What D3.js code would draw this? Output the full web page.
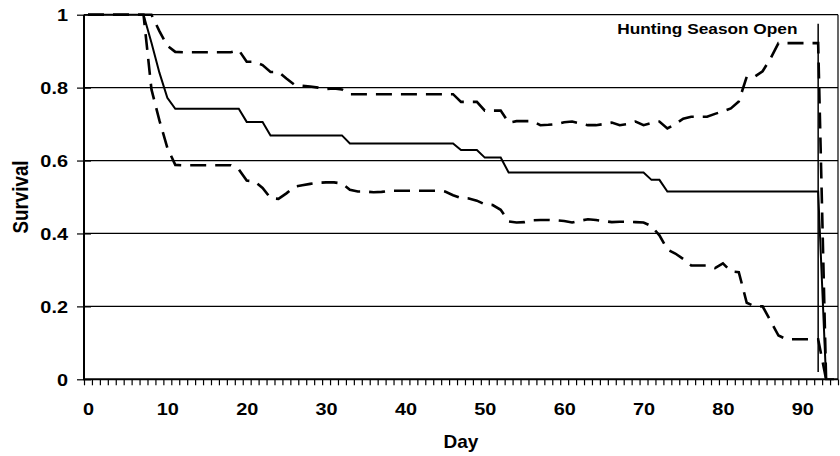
<!DOCTYPE html>
<html>
<head>
<meta charset="utf-8">
<script src="https://cdn.jsdelivr.net/npm/d3@7/dist/d3.min.js"></script>
<style>
  html, body { margin: 0; padding: 0; background: #fff; }
  svg { display: block; }
  text { font-family: "Liberation Sans", Arial, Helvetica, sans-serif; font-weight: bold; fill: #000; }
</style>
</head>
<body>
<svg id="chart" width="840" height="456"></svg>
<script>
// ---- Data ----
const days = d3.range(0, 95);            // categories 0..94
const xTickLabels = [0, 10, 20, 30, 40, 50, 60, 70, 80, 90];
const yTickValues = [0, 0.2, 0.4, 0.6, 0.8, 1];
const yTickLabels = ["0", "0.2", "0.4", "0.6", "0.8", "1"];

const survival = [
  1, 1, 1, 1, 1, 1, 1, 1, 0.923, 0.841,            // 0-9
  0.772, 0.742, 0.742, 0.742, 0.742, 0.742, 0.742, 0.742, 0.742, 0.742, // 10-19
  0.706, 0.706, 0.706, 0.669, 0.669, 0.669, 0.669, 0.669, 0.669, 0.669, // 20-29
  0.669, 0.669, 0.669, 0.647, 0.647, 0.647, 0.647, 0.647, 0.647, 0.647, // 30-39
  0.647, 0.647, 0.647, 0.647, 0.647, 0.647, 0.647, 0.629, 0.629, 0.629, // 40-49
  0.608, 0.608, 0.608, 0.567, 0.567, 0.567, 0.567, 0.567, 0.567, 0.567, // 50-59
  0.567, 0.567, 0.567, 0.567, 0.567, 0.567, 0.567, 0.567, 0.567, 0.567, // 60-69
  0.567, 0.547, 0.547, 0.515, 0.515, 0.515, 0.515, 0.515, 0.515, 0.515, // 70-79
  0.515, 0.515, 0.515, 0.515, 0.515, 0.515, 0.515, 0.515, 0.515, 0.515, // 80-89
  0.515, 0.515, 0.515, 0, 0                                             // 90-94
];

const upperCI = [
  1, 1, 1, 1, 1, 1, 1, 1, 1, 0.955,                 // 0-9
  0.915, 0.898, 0.897, 0.897, 0.897, 0.897, 0.897, 0.897, 0.897, 0.903, // 10-19
  0.871, 0.871, 0.862, 0.843, 0.843, 0.825, 0.808, 0.805, 0.803, 0.800, // 20-29
  0.796, 0.798, 0.795, 0.782, 0.782, 0.782, 0.782, 0.782, 0.782, 0.782, // 30-39
  0.782, 0.782, 0.782, 0.782, 0.782, 0.782, 0.782, 0.761, 0.761, 0.761, // 40-49
  0.737, 0.737, 0.737, 0.704, 0.708, 0.708, 0.708, 0.697, 0.698, 0.700, // 50-59
  0.705, 0.707, 0.702, 0.697, 0.697, 0.700, 0.704, 0.697, 0.700, 0.707, // 60-69
  0.697, 0.703, 0.707, 0.688, 0.700, 0.715, 0.720, 0.720, 0.720, 0.728, // 70-79
  0.735, 0.743, 0.762, 0.830, 0.830, 0.845, 0.880, 0.922, 0.922, 0.922, // 80-89
  0.922, 0.922, 0.922, 0, 0                                             // 90-94
];

const lowerCI = [
  1, 1, 1, 1, 1, 1, 1, 1, 0.795, 0.710,             // 0-9
  0.635, 0.588, 0.587, 0.587, 0.587, 0.587, 0.587, 0.587, 0.587, 0.576, // 10-19
  0.545, 0.543, 0.525, 0.497, 0.495, 0.510, 0.528, 0.532, 0.536, 0.539, // 20-29
  0.540, 0.540, 0.537, 0.520, 0.515, 0.515, 0.513, 0.514, 0.517, 0.517, // 30-39
  0.517, 0.517, 0.517, 0.517, 0.517, 0.515, 0.505, 0.497, 0.496, 0.490, // 40-49
  0.480, 0.478, 0.465, 0.433, 0.430, 0.431, 0.436, 0.437, 0.437, 0.436, // 50-59
  0.434, 0.430, 0.435, 0.439, 0.437, 0.434, 0.431, 0.432, 0.432, 0.431, // 60-69
  0.430, 0.420, 0.395, 0.356, 0.345, 0.330, 0.312, 0.312, 0.312, 0.305, // 70-79
  0.318, 0.296, 0.294, 0.210, 0.200, 0.200, 0.160, 0.120, 0.110, 0.110, // 80-89
  0.110, 0.110, 0.110, 0, 0                                             // 90-94
];

const huntingDay = 92;
const huntingLabel = "Hunting Season Open";
const xTitle = "Day";
const yTitle = "Survival";

// ---- Layout ----
const svg = d3.select("#chart");
const pLeft = 84, pRight = 838, pTop = 14.7, pBottom = 379.3;
const x = d3.scaleLinear().domain([-0.5, 94.5]).range([pLeft, pRight]);
const y = d3.scaleLinear().domain([0, 1]).range([pBottom, pTop]);
const stretch = 1.17;

// gridlines
svg.append("g").selectAll("line")
  .data(yTickValues.filter(v => v > 0))
  .join("line")
  .attr("x1", pLeft).attr("x2", pRight)
  .attr("y1", d => y(d)).attr("y2", d => y(d))
  .attr("stroke", "#000").attr("stroke-width", 1.2);

// right border
svg.append("line")
  .attr("x1", pRight).attr("x2", pRight).attr("y1", pTop).attr("y2", pBottom)
  .attr("stroke", "#000").attr("stroke-width", 1.2);

// x axis: tick marks at category boundaries
const boundaries = d3.range(-0.5, 95, 1);
const xAxisTicks = svg.append("g")
  .attr("transform", `translate(0,${pBottom})`)
  .call(d3.axisBottom(x).tickValues(boundaries).tickSize(6).tickFormat(""));
xAxisTicks.select(".domain").remove();
xAxisTicks.selectAll(".tick line").attr("stroke", "#000").attr("stroke-width", 1.2);

const xAxisLabels = svg.append("g")
  .attr("transform", `translate(0,${pBottom})`)
  .call(d3.axisBottom(x).tickValues(xTickLabels).tickSize(0).tickFormat(d3.format("d")));
xAxisLabels.select(".domain").remove();
xAxisLabels.selectAll(".tick text")
  .attr("y", 36).attr("dy", 0)
  .attr("font-size", 17)
  .style("font-family", "'Liberation Sans', Arial, sans-serif")
  .style("font-weight", "bold")
  .attr("transform", `scale(${stretch},1)`);

// y axis
const yAxis = svg.append("g")
  .attr("transform", `translate(${pLeft},0)`)
  .call(d3.axisLeft(y).tickValues(yTickValues).tickSize(0)
        .tickFormat((d, i) => yTickLabels[i]));
yAxis.select(".domain").remove();
yAxis.selectAll(".tick line")
  .attr("x1", -7).attr("x2", 7)
  .attr("stroke", "#000").attr("stroke-width", 1.2);
yAxis.selectAll(".tick text")
  .attr("x", -16 / stretch).attr("dy", "0.36em")
  .attr("font-size", 17)
  .style("font-family", "'Liberation Sans', Arial, sans-serif")
  .style("font-weight", "bold")
  .attr("transform", `scale(${stretch},1)`);

// axis lines
svg.append("line")
  .attr("x1", pLeft).attr("x2", pLeft).attr("y1", pTop).attr("y2", pBottom + 1)
  .attr("stroke", "#000").attr("stroke-width", 2);
svg.append("line")
  .attr("x1", pLeft).attr("x2", pRight).attr("y1", pBottom).attr("y2", pBottom)
  .attr("stroke", "#000").attr("stroke-width", 2);

// hunting season line
svg.append("line")
  .attr("x1", x(huntingDay)).attr("x2", x(huntingDay))
  .attr("y1", y(0.975)).attr("y2", y(0.02))
  .attr("stroke", "#000").attr("stroke-width", 1.5);

svg.append("text")
  .attr("transform", `translate(797.5,34.3) scale(1.2,1)`)
  .attr("text-anchor", "end")
  .attr("font-size", 14.4)
  .text(huntingLabel);

// series lines
const line = d3.line().x((d, i) => x(days[i])).y(d => y(d));

svg.append("path").datum(upperCI)
  .attr("d", line).attr("fill", "none").attr("stroke", "#000")
  .attr("stroke-width", 2.6).attr("stroke-dasharray", "16,9");

svg.append("path").datum(lowerCI)
  .attr("d", line).attr("fill", "none").attr("stroke", "#000")
  .attr("stroke-width", 2.6).attr("stroke-dasharray", "16,9");

svg.append("path").datum(survival)
  .attr("d", line).attr("fill", "none").attr("stroke", "#000")
  .attr("stroke-width", 2);

// titles
svg.append("text")
  .attr("x", 461).attr("y", 447.5)
  .attr("text-anchor", "middle")
  .attr("font-size", 19)
  .text(xTitle);

svg.append("text")
  .attr("transform", `translate(28.3,197) scale(1.14,1) rotate(-90)`)
  .attr("text-anchor", "middle")
  .attr("font-size", 18.8)
  .text(yTitle);
</script>
</body>
</html>
